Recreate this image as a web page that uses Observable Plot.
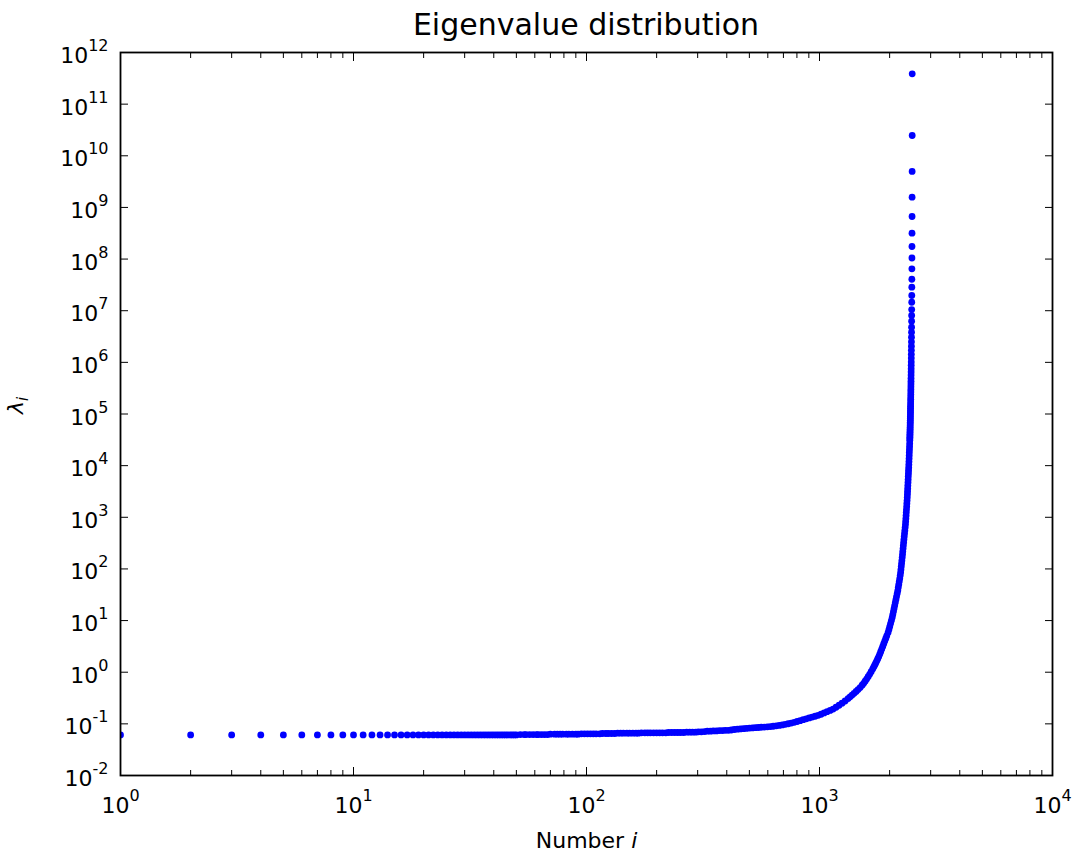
<!DOCTYPE html>
<html><head><meta charset="utf-8">
<script src="https://cdn.jsdelivr.net/npm/d3@7"></script>
<script src="https://cdn.jsdelivr.net/npm/@observablehq/plot@0.6"></script>
<style>
html,body{margin:0;padding:0;background:#fff;overflow:hidden;}
#wrap{width:1077px;height:853px;position:relative;font-family:'DejaVu Sans',sans-serif;color:#000;}
#title{position:absolute;left:120px;top:0;width:932px;height:45px;box-sizing:border-box;padding-top:5px;line-height:40px;font-size:30px;text-align:center;white-space:nowrap;}
#chart{position:absolute;left:0;top:45px;}
</style></head><body>
<div id="wrap"><div id="title"></div><div id="chart"></div></div>
<script>
// ---- data: eigenvalue number i and value lambda_i ----
const headIndex = [1,2,3,4,5,6,7,8,9,10,11,12,13,14,15,16,17,18,19,20,21,22,23,24,25,26,27,28,29,30,31,32,33,34,35,36,37,38,39,40,41,42,43,44,45,46,47,48,49,50];
const headLambda = [0.061,0.061,0.061,0.061,0.061,0.061,0.061,0.061,0.061,0.061,0.061,0.061,0.061,0.061,0.061,0.061,0.061,0.061,0.061,0.061,0.061,0.061,0.061,0.061,0.061,0.061,0.061,0.061,0.061,0.061,0.061,0.061,0.061,0.061,0.061,0.061,0.061,0.061,0.061,0.061,0.061,0.061,0.061,0.061,0.061,0.061,0.061,0.061,0.061,0.061];

const flatIndex = [52,54,55,57,59,61,62,64,66,68,70,73,75,77,79,82,84,87,90,92,95,98,101,104,107,110,114,117,121,124,128,132,136,140,144,149,153,158,163,167,172,178,183,188,194,200,206,212,219,225,232,239,246,253,261,269,277,285,294,302,311,321,330,340,350,361,372,383,394,406,418];
const flatLambda = [0.062,0.062,0.062,0.062,0.062,0.062,0.062,0.062,0.062,0.062,0.063,0.063,0.063,0.063,0.063,0.063,0.063,0.063,0.063,0.063,0.064,0.064,0.064,0.064,0.064,0.064,0.064,0.065,0.065,0.065,0.065,0.065,0.066,0.066,0.066,0.066,0.066,0.066,0.066,0.066,0.067,0.067,0.067,0.067,0.067,0.067,0.067,0.067,0.067,0.068,0.068,0.068,0.068,0.068,0.068,0.069,0.069,0.069,0.069,0.070,0.070,0.071,0.072,0.072,0.073,0.073,0.074,0.074,0.075,0.075,0.076];

const kneeIndex = [431,444,457,471,485,500,515,530,546,562,579,597,615,633,652,672,692,713,734,756,779,802,826,851,877,903,930,958,987,1016,1047,1078,1111,1144,1178,1214,1250,1288,1326,1353,1380,1407,1436,1464,1494,1524,1547,1570,1593,1617,1641,1666,1691,1708,1725,1742,1760,1777,1795,1813,1831,1850,1868,1887,1906,1925,1944];
const kneeLambda = [0.0778,0.0788,0.0797,0.0807,0.0817,0.0827,0.0835,0.0843,0.0851,0.0859,0.0868,0.0877,0.0886,0.0899,0.0914,0.0933,0.0953,0.0978,0.1005,0.1037,0.1073,0.1111,0.1155,0.1203,0.1250,0.1300,0.1351,0.1405,0.1460,0.1534,0.1625,0.1721,0.1823,0.1930,0.2096,0.2291,0.2515,0.2772,0.3084,0.3332,0.3601,0.3903,0.4238,0.4619,0.5050,0.5611,0.6097,0.6694,0.7370,0.8186,0.9107,1.022,1.151,1.255,1.368,1.494,1.641,1.803,1.985,2.216,2.494,2.808,3.161,3.556,4.002,4.504,5.069];

const riseIndex = [1969,1986,2002,2018,2035,2051,2064,2077,2089,2102,2115,2128,2141,2155,2168,2178,2189,2199,2210,2220,2229,2236,2243,2250,2257,2264,2271,2277,2284,2290,2297,2303,2310,2317,2324,2331,2338,2343,2348,2353,2357,2362,2367,2371,2376,2380,2384,2387,2391,2394,2398,2401,2404,2408,2411,2415,2418,2421,2424,2427,2429,2432,2435,2438];
const riseLambda = [5.866,6.706,7.665,8.762,10.02,11.45,13.09,14.96,17.11,19.55,22.35,25.55,29.21,33.39,38.16,43.62,49.87,57.00,65.16,74.49,85.16,97.34,111.3,127.2,145.4,166.2,190.0,217.2,248.3,283.9,324.5,370.9,424.0,484.7,554.1,633.3,724.0,827.7,946.0,1081,1236,1413,1615,1847,2111,2413,2759,3154,3605,4121,4711,5385,6157,7038,8044,9194,10510,12015,13735,15700,17950,20520,23460,26820];

const topIndex = [2441,2442,2443,2444,2445,2446,2447,2448,2449,2450,2451,2452,2453,2454,2455,2456,2457,2458,2459,2460,2461,2462,2463,2464,2465,2466,2467,2468,2469,2470,2471,2472,2473,2474,2475,2476,2477,2478,2479,2480,2481,2482,2483,2484,2485,2486,2487,2488,2489,2490,2491,2492,2493,2494,2495,2496,2497,2498,2499,2500];
const topLambda = [3.09e4,3.30e4,3.53e4,3.79e4,4.07e4,4.37e4,4.70e4,5.07e4,5.47e4,5.91e4,6.40e4,6.94e4,7.54e4,8.20e4,8.93e4,9.75e4,1.07e5,1.17e5,1.29e5,1.42e5,1.56e5,1.73e5,1.92e5,2.13e5,2.38e5,2.67e5,2.99e5,3.37e5,3.81e5,4.33e5,4.94e5,5.66e5,6.51e5,7.53e5,8.75e5,1.02e6,1.21e6,1.43e6,1.71e6,2.06e6,2.50e6,3.07e6,3.84e6,4.79e6,6.27e6,8.07e6,1.05e7,1.46e7,1.97e7,2.85e7,4.07e7,6.47e7,1.05e8,1.75e8,3.17e8,6.67e8,1.58e9,4.97e9,2.47e10,3.87e11];

// ---- ticks and texts ----
const xTickExponents = [0,1,2,3,4];
const yTickExponents = [-2,-1,0,1,2,3,4,5,6,7,8,9,10,11,12];
const xMinorTicks = [2,3,4,5,6,7,8,9,20,30,40,50,60,70,80,90,200,300,400,500,600,700,800,900,2000,3000,4000,5000,6000,7000,8000,9000];
const titleText = "Eigenvalue distribution";
const xLabelText = "Number i";
const yLabelText = "λi";

// ---- build table ----
const points = [];
[[headIndex, headLambda],[flatIndex, flatLambda],[kneeIndex, kneeLambda],[riseIndex, riseLambda],[topIndex, topLambda]]
  .forEach(([ix, lv]) => ix.forEach((v, k) => points.push({i: v, lambda: lv[k]})));

const xMajor = xTickExponents.map(e => Math.pow(10, e));
const yMajor = yTickExponents.map(e => Math.pow(10, e));
const xExp = new Map(xMajor.map((v, k) => [v, xTickExponents[k]]));
const yExp = new Map(yMajor.map((v, k) => [v, yTickExponents[k]]));

document.getElementById("title").textContent = titleText;

const chart = Plot.plot({
  width: 1077, height: 808,
  marginLeft: 120, marginRight: 25, marginTop: 7, marginBottom: 78,
  style: {fontFamily: "'DejaVu Sans', sans-serif", fontSize: "22px", background: "white", color: "black", overflow: "visible"},
  x: {type: "log", domain: [1, 1e4], axis: null},
  y: {type: "log", domain: [1e-2, 1e12], axis: null},
  marks: [
    Plot.dot(points, {x: "i", y: "lambda", r: 3.4, fill: "#0000ff", stroke: "none", clip: true}),
    Plot.frame({stroke: "black", strokeWidth: 1.8}),
    // inward ticks on all four sides
    Plot.axisX(xMajor, {anchor: "bottom", tickSize: 8, dy: -8, fill: "none", stroke: "black", label: null}),
    Plot.axisX(xMajor, {anchor: "top", tickSize: 8, dy: 8, fill: "none", stroke: "black", label: null}),
    Plot.axisX(xMinorTicks, {anchor: "bottom", tickSize: 5, dy: -5, fill: "none", stroke: "black", label: null}),
    Plot.axisX(xMinorTicks, {anchor: "top", tickSize: 5, dy: 5, fill: "none", stroke: "black", label: null}),
    Plot.axisY(yMajor, {anchor: "left", tickSize: 8, dx: 8, fill: "none", stroke: "black", label: null}),
    Plot.axisY(yMajor, {anchor: "right", tickSize: 8, dx: -8, fill: "none", stroke: "black", label: null}),
    // tick labels
    Plot.axisX(xMajor, {anchor: "bottom", tickSize: 0, tickPadding: 21.4, stroke: "none", fill: "black", fontSize: 22, label: null, tickFormat: d => "10^" + xExp.get(d)}),
    Plot.axisY(yMajor, {anchor: "left", tickSize: 0, tickPadding: 12, dy: 3.5, stroke: "none", fill: "black", fontSize: 22, label: null, tickFormat: d => "10^" + yExp.get(d)}),
    // axis labels
    Plot.text([xLabelText], {frameAnchor: "bottom", dy: 72, lineAnchor: "bottom", fontSize: 22, fill: "black"}),
    Plot.text([yLabelText], {frameAnchor: "left", dx: -98, rotate: -90, lineAnchor: "bottom", fontSize: 22, fill: "black"})
  ]
});
document.getElementById("chart").appendChild(chart);

// superscripts / italics as real text
const NS = "http://www.w3.org/2000/svg";
function span(txt, attrs) {
  const s = document.createElementNS(NS, "tspan");
  for (const k in attrs) s.setAttribute(k, attrs[k]);
  s.textContent = txt;
  return s;
}
chart.querySelectorAll("text").forEach(t => {
  const s = t.textContent;
  if (/^10\^/.test(s)) {
    const exp = s.split("^")[1];
    t.textContent = "10";
    t.appendChild(span(exp, {dy: "-12", "font-size": "16"}));
  } else if (s === xLabelText) {
    t.textContent = "Number ";
    t.appendChild(span("i", {"font-style": "italic"}));
  } else if (s === yLabelText) {
    t.textContent = "";
    t.appendChild(span("λ", {"font-style": "italic"}));
    t.appendChild(span("i", {"font-style": "italic", "font-size": "15", dy: "5"}));
  }
});
</script>
</body></html>
